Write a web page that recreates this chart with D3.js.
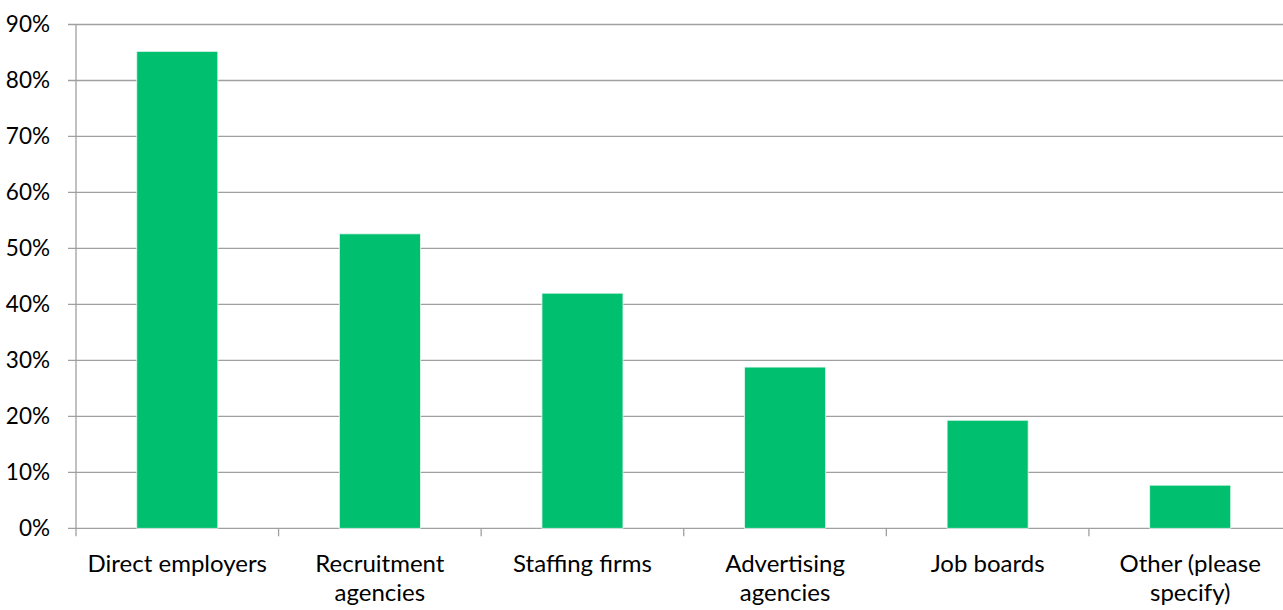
<!DOCTYPE html>
<html>
<head>
<meta charset="utf-8">
<script src="https://cdn.jsdelivr.net/npm/d3@7"></script>
<style>
  html, body { margin: 0; padding: 0; background: #ffffff; }
  svg { display: block; }
  text { font-family: Lato, "Open Sans", sans-serif; fill: #000000; }
</style>
</head>
<body>
<svg id="chart" width="1283" height="610"></svg>
<script>
// Where respondents come from (share of respondents)
const categories = [
  "Direct employers",
  "Recruitment agencies",
  "Staffing firms",
  "Advertising agencies",
  "Job boards",
  "Other (please specify)"
];
const shares = [0.852, 0.526, 0.420, 0.288, 0.193, 0.077];
const yTicks = [0, 0.1, 0.2, 0.3, 0.4, 0.5, 0.6, 0.7, 0.8, 0.9];

const svg = d3.select("#chart");
const plot = { left: 76, right: 1291.5, top: 24.5, bottom: 528.3 };

const x = d3.scaleBand()
  .domain(categories)
  .range([plot.left, plot.right])
  .paddingInner(0.6)
  .paddingOuter(0.3);

const y = d3.scaleLinear()
  .domain([0, 0.9])
  .range([plot.bottom, plot.top]);

const gridColor = "#a0a0a0";

// horizontal gridlines with short ticks left of the axis
svg.append("g")
  .selectAll("line")
  .data(yTicks)
  .join("line")
  .attr("x1", plot.left - 8)
  .attr("x2", plot.right)
  .attr("y1", d => y(d))
  .attr("y2", d => y(d))
  .attr("stroke", gridColor)
  .attr("stroke-width", 1.3);

// y axis labels
svg.append("g")
  .selectAll("text")
  .data(yTicks)
  .join("text")
  .attr("x", 50)
  .attr("y", d => y(d))
  .attr("dy", "0.35em")
  .attr("text-anchor", "end")
  .style("font-size", "22.5px")
  .text(d3.format(".0%"));

// vertical axis line
svg.append("line")
  .attr("x1", plot.left).attr("x2", plot.left)
  .attr("y1", plot.top).attr("y2", plot.bottom + 8)
  .attr("stroke", gridColor)
  .attr("stroke-width", 1.3);

// category boundary ticks below the baseline
const step = x.step();
const boundaries = d3.range(1, categories.length + 1).map(i => plot.left + i * step);
svg.append("g")
  .selectAll("line")
  .data(boundaries)
  .join("line")
  .attr("x1", d => d).attr("x2", d => d)
  .attr("y1", plot.bottom).attr("y2", plot.bottom + 8)
  .attr("stroke", gridColor)
  .attr("stroke-width", 1.3);

// bars
svg.append("g")
  .selectAll("rect")
  .data(categories)
  .join("rect")
  .attr("x", d => x(d))
  .attr("width", x.bandwidth())
  .attr("y", (d, i) => y(shares[i]))
  .attr("height", (d, i) => y(0) - y(shares[i]))
  .attr("fill", "#00bf6f")
  .attr("stroke", "#e6f8ef")
  .attr("stroke-width", 0.8);

// category labels, wrapped to fit the band
const labels = svg.append("g")
  .selectAll("text")
  .data(categories)
  .join("text")
  .attr("text-anchor", "middle")
  .style("font-size", "24px")
  .attr("x", d => x(d) + x.bandwidth() / 2)
  .attr("y", 572);

labels.each(function(d) {
  const t = d3.select(this);
  const cx = x(d) + x.bandwidth() / 2;
  const words = d.split(" ");
  const maxW = step - 8;
  let lines = [];
  let line = [];
  const probe = t.append("tspan");
  words.forEach(w => {
    const trial = line.concat([w]).join(" ");
    probe.text(trial);
    if (probe.node().getComputedTextLength() > maxW && line.length) {
      lines.push(line.join(" "));
      line = [w];
    } else {
      line.push(w);
    }
  });
  lines.push(line.join(" "));
  probe.remove();
  lines.forEach((l, i) => {
    t.append("tspan").attr("x", cx).attr("dy", i === 0 ? 0 : 29).text(l);
  });
});
</script>
</body>
</html>
